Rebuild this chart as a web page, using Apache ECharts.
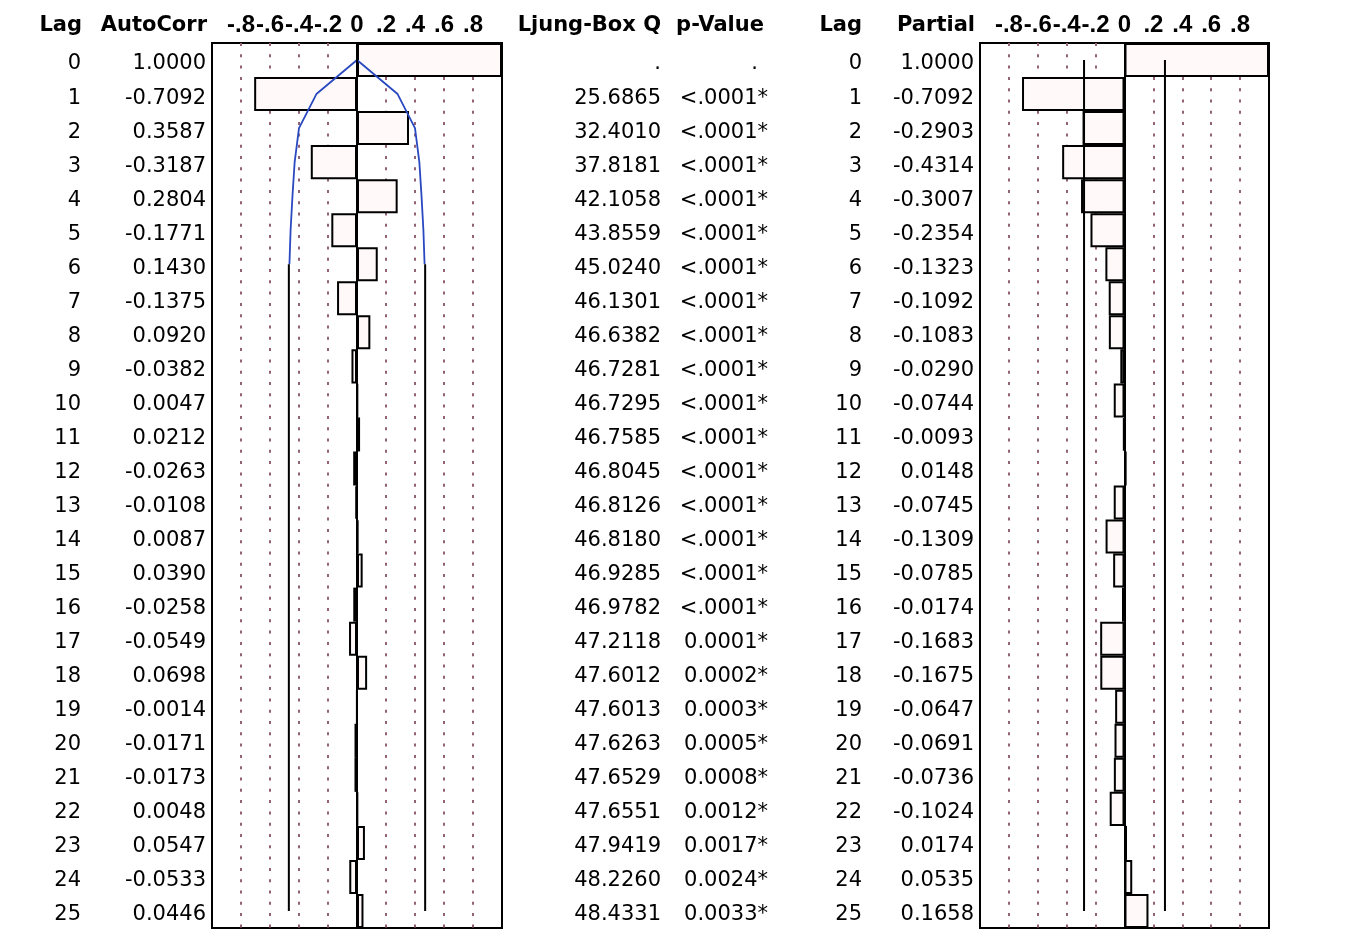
<!DOCTYPE html>
<html><head><meta charset="utf-8">
<script src="https://cdn.jsdelivr.net/npm/echarts@6/dist/echarts.min.js"></script>
<style>html,body{margin:0;padding:0;background:#fff}#chart{width:1348px;height:934px}</style>
</head><body><div id="chart"></div>
<script>
// ---- data ----
const lags = ['0','1','2','3','4','5','6','7','8','9','10','11','12','13','14','15','16','17','18','19','20','21','22','23','24','25'];
const autoCorr = [1.0000,-0.7092,0.3587,-0.3187,0.2804,-0.1771,0.1430,-0.1375,0.0920,-0.0382,0.0047,0.0212,-0.0263,-0.0108,0.0087,0.0390,-0.0258,-0.0549,0.0698,-0.0014,-0.0171,-0.0173,0.0048,0.0547,-0.0533,0.0446];
const ljungBoxQ = ['.', '25.6865','32.4010','37.8181','42.1058','43.8559','45.0240','46.1301','46.6382','46.7281','46.7295','46.7585','46.8045','46.8126','46.8180','46.9285','46.9782','47.2118','47.6012','47.6013','47.6263','47.6529','47.6551','47.9419','48.2260','48.4331'];
const pValue = ['.', '<.0001*','<.0001*','<.0001*','<.0001*','<.0001*','<.0001*','<.0001*','<.0001*','<.0001*','<.0001*','<.0001*','<.0001*','<.0001*','<.0001*','<.0001*','<.0001*','0.0001*','0.0002*','0.0003*','0.0005*','0.0008*','0.0012*','0.0017*','0.0024*','0.0033*'];
const partial = [1.0000,-0.7092,-0.2903,-0.4314,-0.3007,-0.2354,-0.1323,-0.1092,-0.1083,-0.0290,-0.0744,-0.0093,0.0148,-0.0745,-0.1309,-0.0785,-0.0174,-0.1683,-0.1675,-0.0647,-0.0691,-0.0736,-0.1024,0.0174,0.0535,0.1658];
// confidence bounds
const acfBoundBlueLags = [0,1,2,3,4,5,6];
const acfBoundBlue = [0,0.28,0.40,0.43,0.445,0.458,0.466];
const acfBoundBlackLags = [6,25];
const acfBoundBlack = [0.47,0.47];
const pacfBoundLags = [0,25];
const pacfBound = [0.28,0.28];
const tickLabels = ['-.8','-.6','-.4','-.2','0','.2','.4','.6','.8'];
const tickValues = [-0.8,-0.6,-0.4,-0.2,0,0.2,0.4,0.6,0.8];

// ---- style ----
const FONT = 'DejaVu Sans';
const FS = 21;
const dotColor = '#916278';

const chart = echarts.init(document.getElementById('chart'), null, {renderer:'canvas'});

function valAxis(gi){
  return {
    type:'value', gridIndex:gi, min:-1, max:1, interval:0.2, position:'top',
    axisLine:{show:false}, axisTick:{show:false},
    splitLine:{show:true, showMinLine:false, showMaxLine:false,
      lineStyle:{color:dotColor, width:2, type:[3,8.3], cap:'butt'}},
    axisLabel:{
      show:true, margin:6, fontFamily:'Liberation Sans', fontWeight:'bold', fontSize:24, color:'#000',
      showMinLabel:false, showMaxLabel:false, hideOverlap:false,
      formatter:function(v){
        for (let i=0;i<tickValues.length;i++){ if (Math.abs(v-tickValues[i])<1e-6) return tickLabels[i]; }
        return '';
      }
    }
  };
}
function catAxis(gi, offset, margin, formatter, rich){
  return {
    type:'category', gridIndex:gi, data:lags, inverse:true, position:'left', offset:offset,
    axisLine:{show:false}, axisTick:{show:false}, splitLine:{show:false},
    axisLabel:{interval:0, margin:margin, fontFamily:FONT, fontSize:FS, color:'#000',
      padding:[8,0,0,0], formatter:formatter, rich:rich||{}}
  };
}
const zeroLine = {silent:true, symbol:['none','none'], label:{show:false},
  lineStyle:{color:'#000', width:2, type:'solid'}, data:[{xAxis:0}]};
const barStyle = {color:'#fff9f9', borderColor:'#000', borderWidth:2};

function boundSeries(xi, yi, lagsArr, vals, sign, color, width){
  return {
    type:'line', xAxisIndex:xi, yAxisIndex:yi, symbol:'none', silent:true, z:4,
    lineStyle:{color:color, width:width}, animation:false,
    data: lagsArr.map((l,i)=>[sign*vals[i], l])
  };
}

const option = {
  animation:false,
  backgroundColor:'#fff',
  grid:[
    {left:212, top:43, width:290, height:885, show:true, borderColor:'#000', borderWidth:2, backgroundColor:'transparent'},
    {left:980, top:43, width:289, height:885, show:true, borderColor:'#000', borderWidth:2, backgroundColor:'transparent'}
  ],
  xAxis:[valAxis(0), valAxis(1)],
  yAxis:[
    catAxis(0, 0, 6, (v,i)=>autoCorr[i].toFixed(4)),
    catAxis(0, 125, 6, (v,i)=>lags[i]),
    catAxis(1, 0, 6, (v,i)=>partial[i].toFixed(4)),
    catAxis(1, 112, 6, (v,i)=>lags[i]),
    catAxis(1, 206, 6, (v,i)=> i===0 ? '{d|' + pValue[i] + '}' : pValue[i],
      {d:{fontFamily:FONT, fontSize:FS, color:'#000', padding:[0,10,0,0]}}),
    catAxis(1, 313, 6, (v,i)=> ljungBoxQ[i])
  ],
  series:[
    {type:'bar', name:'AutoCorr', xAxisIndex:0, yAxisIndex:0, data:autoCorr, barWidth:'100%', barGap:'0%',
     itemStyle:barStyle, z:2, markLine:zeroLine},
    boundSeries(0,0,acfBoundBlueLags,acfBoundBlue,1,'#2a48c0',1.8),
    boundSeries(0,0,acfBoundBlueLags,acfBoundBlue,-1,'#2a48c0',1.8),
    boundSeries(0,0,acfBoundBlackLags,acfBoundBlack,1,'#000',2),
    boundSeries(0,0,acfBoundBlackLags,acfBoundBlack,-1,'#000',2),
    {type:'bar', name:'Partial', xAxisIndex:1, yAxisIndex:2, data:partial, barWidth:'100%', barGap:'0%',
     itemStyle:barStyle, z:2, markLine:zeroLine},
    boundSeries(1,2,pacfBoundLags,pacfBound,1,'#000',2),
    boundSeries(1,2,pacfBoundLags,pacfBound,-1,'#000',2)
  ],
  graphic:[
    ['Lag',82],['AutoCorr',207],['Ljung-Box Q',661],['p-Value',764],['Lag',862],['Partial',975]
  ].map(h=>({type:'text', x:h[1], y:26, silent:true,
    style:{text:h[0], fill:'#000', font:'bold '+FS+'px "'+FONT+'"', textAlign:'right', textVerticalAlign:'middle'}}))
};
chart.setOption(option);
</script>
</body></html>
